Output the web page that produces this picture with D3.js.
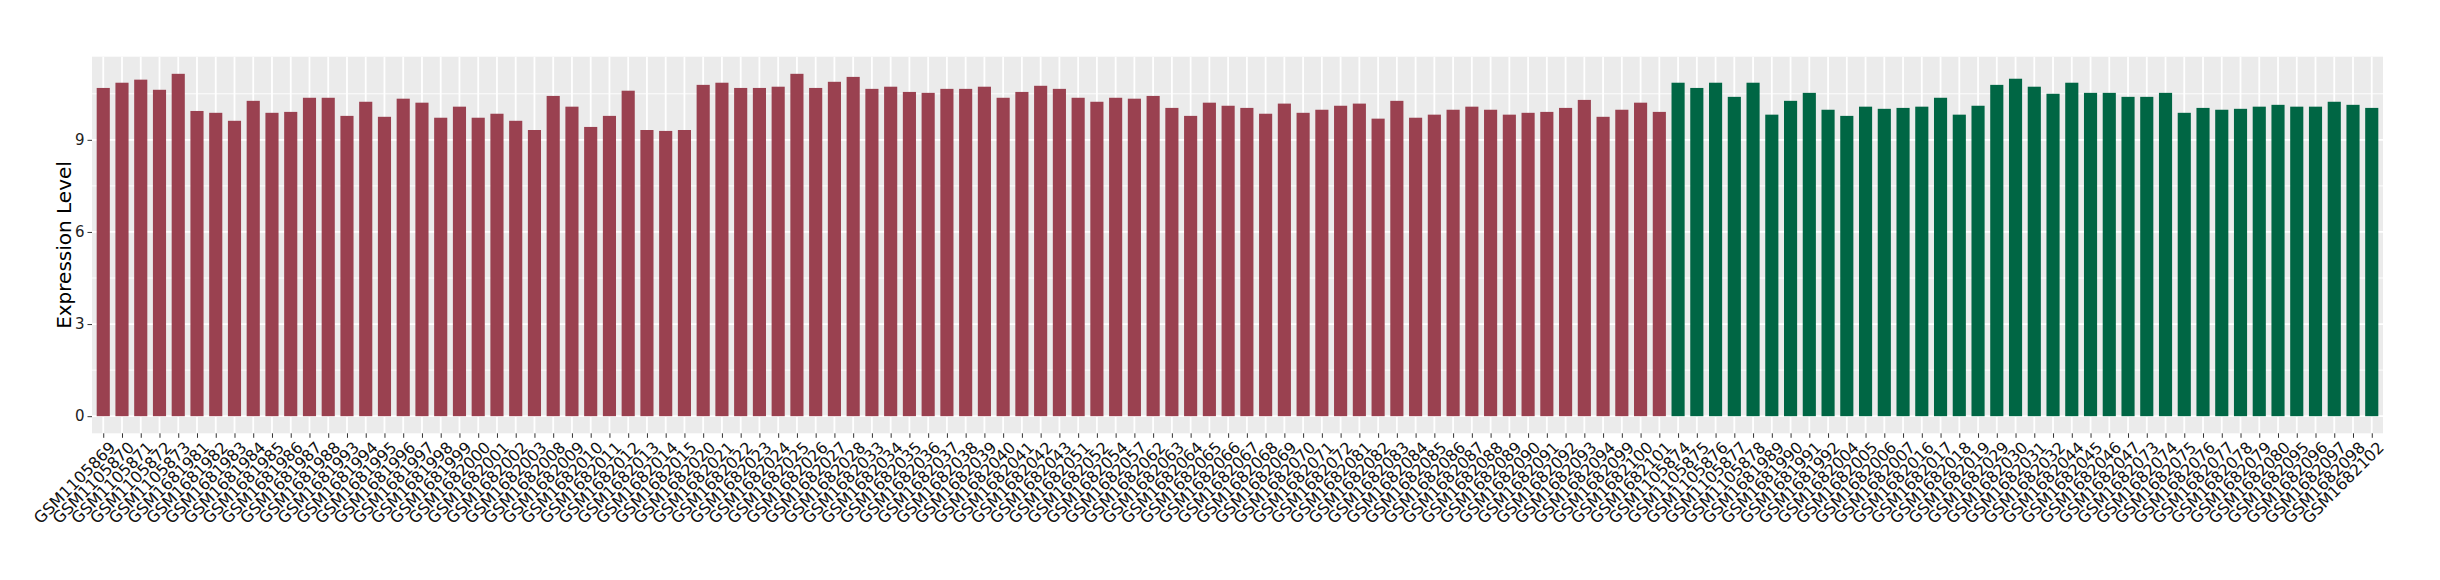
<!DOCTYPE html>
<html>
<head>
<meta charset="utf-8">
<script src="https://cdn.jsdelivr.net/npm/d3@7"></script>
<style>
  body { margin: 0; background: #fff; }
  svg text { font-family: "DejaVu Sans", sans-serif; }
</style>
</head>
<body>
<div id="chart"></div>
<script>
// sample ids, in plot order
const groupA = ['GSM1105869','GSM1105870','GSM1105871','GSM1105872','GSM1105873','GSM1681981','GSM1681982','GSM1681983','GSM1681984','GSM1681985',
  'GSM1681986','GSM1681987','GSM1681988','GSM1681993','GSM1681994','GSM1681995','GSM1681996','GSM1681997','GSM1681998','GSM1681999',
  'GSM1682000','GSM1682001','GSM1682002','GSM1682003','GSM1682008','GSM1682009','GSM1682010','GSM1682011','GSM1682012','GSM1682013',
  'GSM1682014','GSM1682015','GSM1682020','GSM1682021','GSM1682022','GSM1682023','GSM1682024','GSM1682025','GSM1682026','GSM1682027',
  'GSM1682028','GSM1682033','GSM1682034','GSM1682035','GSM1682036','GSM1682037','GSM1682038','GSM1682039','GSM1682040','GSM1682041',
  'GSM1682042','GSM1682043','GSM1682051','GSM1682052','GSM1682054','GSM1682057','GSM1682062','GSM1682063','GSM1682064','GSM1682065',
  'GSM1682066','GSM1682067','GSM1682068','GSM1682069','GSM1682070','GSM1682071','GSM1682072','GSM1682081','GSM1682082','GSM1682083',
  'GSM1682084','GSM1682085','GSM1682086','GSM1682087','GSM1682088','GSM1682089','GSM1682090','GSM1682091','GSM1682092','GSM1682093',
  'GSM1682094','GSM1682099','GSM1682100','GSM1682101'];
const valuesA = [10.69,10.86,10.96,10.63,11.15,9.94,9.88,9.62,10.27,9.88,
  9.91,10.37,10.37,9.78,10.24,9.75,10.34,10.21,9.72,10.08,
  9.72,9.85,9.62,9.32,10.43,10.08,9.42,9.78,10.60,9.32,
  9.29,9.32,10.79,10.86,10.69,10.69,10.73,11.15,10.69,10.89,
  11.05,10.66,10.73,10.56,10.53,10.66,10.66,10.73,10.37,10.56,
  10.76,10.66,10.37,10.24,10.37,10.34,10.43,10.04,9.78,10.21,
  10.11,10.04,9.85,10.18,9.88,9.98,10.11,10.18,9.69,10.27,
  9.72,9.82,9.98,10.08,9.98,9.82,9.88,9.91,10.04,10.30,
  9.75,9.98,10.21,9.91];

const groupB = ['GSM1105874','GSM1105875','GSM1105876','GSM1105877','GSM1105878','GSM1681989','GSM1681990','GSM1681991','GSM1681992','GSM1682004',
  'GSM1682005','GSM1682006','GSM1682007','GSM1682016','GSM1682017','GSM1682018','GSM1682019','GSM1682029','GSM1682030','GSM1682031',
  'GSM1682032','GSM1682044','GSM1682045','GSM1682046','GSM1682047','GSM1682073','GSM1682074','GSM1682075','GSM1682076','GSM1682077',
  'GSM1682078','GSM1682079','GSM1682080','GSM1682095','GSM1682096','GSM1682097','GSM1682098','GSM1682102'];
const valuesB = [10.86,10.69,10.86,10.40,10.86,9.82,10.27,10.53,9.98,9.78,
  10.08,10.01,10.04,10.08,10.37,9.82,10.11,10.79,10.99,10.73,
  10.50,10.86,10.53,10.53,10.40,10.40,10.53,9.88,10.04,9.98,
  10.01,10.08,10.14,10.08,10.08,10.24,10.14,10.04];

const yTicks = [0, 3, 6, 9];
const yMinor = [1.5, 4.5, 7.5, 10.5];
const colorA = '#9A4150', colorB = '#006644';

const rows = groupA.map((s, i) => ({ id: s, v: valuesA[i], c: colorA }))
  .concat(groupB.map((s, i) => ({ id: s, v: valuesB[i], c: colorB })));

const W = 2440, H = 580;
const panel = { left: 92, right: 2383, top: 56.7, bottom: 433.3 };

const svg = d3.select('#chart').append('svg')
  .attr('width', W).attr('height', H);

// ggplot style expansions
const n = rows.length;
const x = d3.scaleLinear().domain([-0.6, n - 1 + 0.6]).range([panel.left, panel.right]);
const vmax = d3.max(rows, d => d.v);
const y = d3.scaleLinear().domain([-0.05 * vmax, vmax * 1.05]).range([panel.bottom, panel.top]);
const bw = 0.7 * (x(1) - x(0));

svg.append('rect')
  .attr('x', panel.left).attr('y', panel.top)
  .attr('width', panel.right - panel.left).attr('height', panel.bottom - panel.top)
  .attr('fill', '#EBEBEB');

// grid
svg.append('g').selectAll('line').data(yMinor).join('line')
  .attr('x1', panel.left).attr('x2', panel.right)
  .attr('y1', d => y(d)).attr('y2', d => y(d))
  .attr('stroke', '#fff').attr('stroke-width', 0.9);
svg.append('g').selectAll('line').data(yTicks).join('line')
  .attr('x1', panel.left).attr('x2', panel.right)
  .attr('y1', d => y(d)).attr('y2', d => y(d))
  .attr('stroke', '#fff').attr('stroke-width', 1.8);
svg.append('g').selectAll('line').data(rows).join('line')
  .attr('x1', (d, i) => x(i)).attr('x2', (d, i) => x(i))
  .attr('y1', panel.top).attr('y2', panel.bottom)
  .attr('stroke', '#fff').attr('stroke-width', 1.8);

// bars
svg.append('g').selectAll('rect').data(rows).join('rect')
  .attr('x', (d, i) => x(i) - bw / 2)
  .attr('width', bw)
  .attr('y', d => y(d.v))
  .attr('height', d => y(0) - y(d.v))
  .attr('fill', d => d.c);

// y axis
const yAxis = svg.append('g')
  .attr('transform', `translate(${panel.left},0)`)
  .call(d3.axisLeft(y).tickValues(yTicks).tickSize(4.5).tickPadding(3));
yAxis.select('.domain').remove();
yAxis.selectAll('line').attr('stroke', '#333');
yAxis.selectAll('text').attr('fill', '#222').style('font-size', '15px');

// x axis
const xAxis = svg.append('g')
  .attr('transform', `translate(0,${panel.bottom})`)
  .call(d3.axisBottom(x).tickValues(d3.range(n)).tickSize(4.5).tickFormat(''));
xAxis.select('.domain').remove();
xAxis.selectAll('line').attr('stroke', '#333');

svg.append('g').selectAll('text').data(rows).join('text')
  .attr('transform', (d, i) => `translate(${x(i) + 5},${panel.bottom + 7}) rotate(-45)`)
  .attr('text-anchor', 'end')
  .attr('dy', '0.73em')
  .attr('fill', '#111')
  .style('font-size', '16px')
  .text(d => d.id);

svg.append('text')
  .attr('transform', `translate(71,${(panel.top + panel.bottom) / 2}) rotate(-90)`)
  .attr('text-anchor', 'middle')
  .attr('fill', '#000')
  .style('font-size', '20px')
  .text('Expression Level');
</script>
</body>
</html>
